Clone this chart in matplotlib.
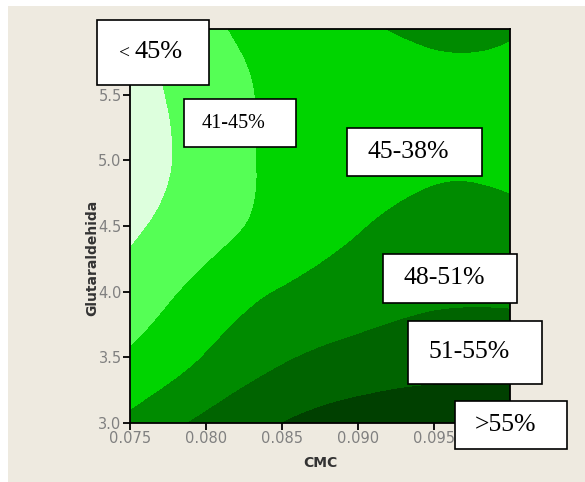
import numpy as np
import matplotlib
matplotlib.use("Agg")
import matplotlib.pyplot as plt
import matplotlib.tri as mtri
from matplotlib.patches import Rectangle

# grid
cmc = [0.075, 0.080, 0.085, 0.090, 0.095, 0.100]
glut = [3.0, 3.5, 4.0, 4.5, 5.0, 5.5, 6.0]
# rows = cmc, columns = glutaraldehida
resp = [
    [48.7, 45.45, 42.6, 40.3, 39.1, 39.4, 39.7],
    [51.8, 48.15, 46.1, 43.5, 42.6, 42.9, 44.1],
    [55.0, 50.6, 48.15, 46.2, 45.9, 45.85, 46.4],
    [57.0, 52.3, 49.3, 47.85, 47.1, 46.95, 47.7],
    [57.2, 53.4, 50.2, 48.6, 47.7, 47.55, 48.3],
    [57.2, 53.4, 50.3, 48.5, 47.6, 47.5, 48.15],
]
levels = [30, 41, 45, 48, 51, 55, 70]
band_colors = ["#ddffdd", "#55ff55", "#00d400", "#008b00", "#006400", "#004000"]

# (text, box left, top, right, bottom in px, fontsize)
labels = [
    ("41-45%", 184, 99, 296, 147, 14.5),
    ("45-38%", 347, 128, 482, 176, 18.5),
    ("48-51%", 383, 254, 517, 303, 18.5),
    ("51-55%", 408, 321, 542, 384, 18.5),
    (">55%", 455, 401, 567, 449, 18.5),
]

W, H = 585, 482
fig = plt.figure(figsize=(W / 100, H / 100), dpi=100, facecolor="white")
fig.add_artist(Rectangle((8 / W, 0), 1, 1 - 6 / H, transform=fig.transFigure,
                         facecolor="#eeeae0", edgecolor="none", zorder=0))

ax = fig.add_axes([130 / W, 1 - 423 / H, 380 / W, 394 / H])

nx, ny = len(cmc), len(glut)
X, Y = np.meshgrid(cmc, glut, indexing="ij")
Z = np.array(resp)
tris = []
for i in range(nx - 1):
    for j in range(ny - 1):
        a = i * ny + j
        b = (i + 1) * ny + j
        tris.append([a, b, b + 1])
        tris.append([a, b + 1, a + 1])
tri = mtri.Triangulation(X.ravel(), Y.ravel(), tris)
refiner = mtri.UniformTriRefiner(tri)
tri_f, z_f = refiner.refine_field(Z.ravel(), subdiv=4)
ax.tricontourf(tri_f, z_f, levels=levels, colors=band_colors)

ax.set_xlim(0.075, 0.100)
ax.set_ylim(3.0, 6.0)
ax.set_xticks([0.075, 0.080, 0.085, 0.090, 0.095, 0.100])
ax.set_xticklabels(["0.075", "0.080", "0.085", "0.090", "0.095", ""])
ax.set_yticks([3.0, 3.5, 4.0, 4.5, 5.0, 5.5, 6.0])
ax.set_yticklabels(["3.0", "3.5", "4.0", "4.5", "5.0", "5.5", "6.0"])
ax.tick_params(direction="out", length=5, width=1.3, color="black",
               labelsize=10.5, labelcolor="#808080", pad=1)
for s in ax.spines.values():
    s.set_linewidth(1.3)

ax.set_xlabel("CMC", fontsize=10, fontweight="bold", color="#333333")
ax.set_ylabel("Glutaraldehida", fontsize=10, fontweight="bold", color="#333333")
ax.xaxis.set_label_coords(0.5, -0.085)
ax.yaxis.set_label_coords(-0.082, 0.42)

# first box: "<45%" with a smaller "<"
fig.add_artist(Rectangle((97 / W, 1 - 85 / H), 112 / W, 65 / H,
                         transform=fig.transFigure, facecolor="white",
                         edgecolor="black", linewidth=1.2, zorder=5))
fig.text(124 / W, 1 - 54 / H, "<", ha="center", va="center", fontsize=14,
         family="Liberation Serif", zorder=6)
fig.text(159 / W, 1 - 52 / H, "45%", ha="center", va="center", fontsize=19,
         family="Liberation Serif", zorder=6)

for txt, l, t, r, b, fs in labels:
    fig.add_artist(Rectangle((l / W, 1 - b / H), (r - l) / W, (b - t) / H,
                             transform=fig.transFigure, facecolor="white",
                             edgecolor="black", linewidth=1.2, zorder=5))
    fig.text(((l + r) / 2 - 6) / W, 1 - (t + b) / 2 / H, txt, ha="center",
             va="center", fontsize=fs, family="Liberation Serif", zorder=6)

fig.savefig("out.png", dpi=100, facecolor=fig.get_facecolor())
